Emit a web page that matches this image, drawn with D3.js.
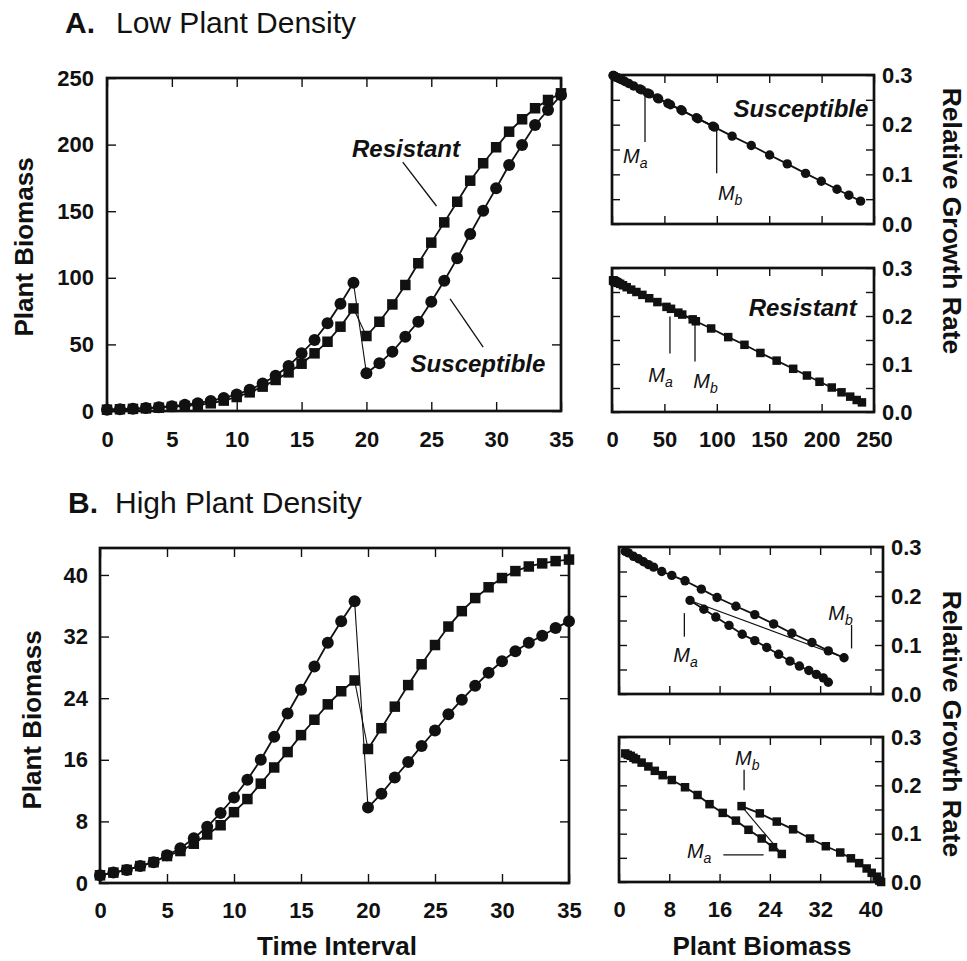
<!DOCTYPE html>
<html><head><meta charset="utf-8">
<script src="https://cdn.jsdelivr.net/npm/d3@7"></script>
<style>
body{margin:0;background:#fff}
text{font-family:"Liberation Sans",Arial,Helvetica,sans-serif;fill:#111}
</style>
</head><body>
<svg id="c" width="967" height="961"></svg>
<script>
// ---------------- DATA ----------------
const timeIntervals = [0,1,2,3,4,5,6,7,8,9,10,11,12,13,14,15,16,17,18,19,20,21,22,23,24,25,26,27,28,29,30,31,32,33,34,35];
const damageIndex = 20; // first interval after herbivory

// A. Low plant density – biomass over time
const lowSusceptible = [1.0,1.3,1.7,2.2,2.8,3.6,4.6,5.9,7.6,9.8,12.3,16.0,20.6,26.5,33.8,43.3,53.3,65.8,80.5,96.3,
  28.3,35.8,44.5,55.8,67.0,82.0,97.8,114.6,132.9,150.4,167.2,184.7,199.7,214.7,226.0,237.2];
const lowResistant = [1.0,1.3,1.6,2.0,2.5,3.1,3.8,4.6,5.8,7.8,10.5,14.0,18.3,23.3,29.0,35.5,43.3,52.0,63.3,77.0,
  56.3,67.0,80.0,94.6,110.9,126.4,141.6,157.1,172.9,186.0,198.0,209.7,219.0,227.3,233.5,238.5];
// A. relative growth rate at each biomass above
const lowSusRGR = [0.299,0.299,0.298,0.298,0.297,0.296,0.295,0.294,0.292,0.290,0.287,0.283,0.278,0.272,0.264,0.254,0.243,0.230,0.214,0.197,
  0.270,0.262,0.252,0.240,0.228,0.212,0.195,0.177,0.158,0.139,0.121,0.102,0.086,0.070,0.058,0.046];
const lowResRGR = [0.274,0.274,0.273,0.273,0.272,0.272,0.271,0.270,0.269,0.267,0.264,0.260,0.255,0.250,0.244,0.237,0.229,0.219,0.207,0.193,
  0.215,0.203,0.189,0.174,0.156,0.140,0.123,0.107,0.090,0.076,0.063,0.051,0.041,0.032,0.025,0.020];

// B. High plant density – biomass over time
const highSusceptible = [1.0,1.35,1.7,2.2,2.7,3.6,4.5,5.8,7.3,9.1,11.1,13.4,16.0,19.0,22.0,25.1,28.1,31.2,34.0,36.6,
  9.8,11.6,13.7,15.7,17.8,19.8,21.9,23.8,25.6,27.3,28.8,30.1,31.2,32.1,33.1,34.0];
const highResistant = [1.0,1.35,1.7,2.2,2.7,3.5,4.15,5.1,6.3,7.5,9.2,10.9,12.9,15.0,17.0,19.2,21.2,23.2,24.9,26.3,
  17.4,20.1,22.9,25.7,28.4,30.9,33.3,35.3,37.0,38.4,39.6,40.5,41.1,41.5,41.8,42.0];
// B. relative growth rate vs biomass (before herbivory, then after)
const highSusRGRBiomass = [1.0,1.5,2.3,3.1,3.9,4.7,5.5,6.8,8.4,10.5,13.1,15.6,18.6,21.6,24.6,27.5,30.7,33.3,35.8,
  11.3,13.5,15.4,17.5,19.6,21.6,23.5,25.4,27.2,28.7,30.2,31.4,32.5,33.3];
const highSusRGR = [0.291,0.288,0.281,0.276,0.270,0.264,0.259,0.250,0.242,0.231,0.214,0.197,0.179,0.162,0.143,0.124,0.105,0.088,0.074,
  0.191,0.173,0.157,0.140,0.122,0.109,0.095,0.081,0.067,0.057,0.048,0.040,0.033,0.024];
const highSusRGRBreak = 19;
const highResRGRBiomass = [1.0,1.4,1.86,2.3,2.7,3.6,4.67,5.7,6.95,8.4,10.5,12.5,14.4,16.5,18.6,20.6,22.7,24.5,25.9,
  19.5,22.4,25.1,27.7,30.4,32.9,35.2,36.9,38.2,39.4,40.2,41.0,41.4,41.7];
const highResRGR = [0.266,0.263,0.261,0.257,0.254,0.247,0.239,0.230,0.221,0.211,0.196,0.180,0.161,0.143,0.127,0.108,0.090,0.072,0.058,
  0.157,0.142,0.125,0.109,0.090,0.074,0.061,0.049,0.039,0.028,0.019,0.011,0.003,0.000];
const highResRGRBreak = 19;

// tick labels
const timeTicks = [0,5,10,15,20,25,30,35];
const lowBiomassTicks = [0,50,100,150,200,250];
const highBiomassTicks = [0,8,16,24,32,40];
const rgrTicks = [0,0.05,0.1,0.15,0.2,0.25,0.3];

// ---------------- DRAWING ----------------
const svg = d3.select("#c");
const INK = "#111";

function panel(box, xDom, yDom, xTicks, yTicks, o) {
  const g = svg.append("g");
  const x = d3.scaleLinear().domain(xDom).range([box.x0, box.x1]);
  const y = d3.scaleLinear().domain(yDom).range([box.y1, box.y0]);
  const tick = o.tick || 9;
  const fmtY = o.yFmt || (d => d);
  const axes = [
    [d3.axisBottom(x).tickValues(xTicks).tickFormat(o.xLabels ? (d=>d) : ""), `translate(0,${box.y1})`, o.xPad || 20],
    [d3.axisTop(x).tickValues(xTicks).tickFormat(""), `translate(0,${box.y0})`, 0],
    [d3.axisLeft(y).tickValues(yTicks).tickFormat(o.yLeft ? fmtY : ""), `translate(${box.x0},0)`, o.yPad || 12],
    [d3.axisRight(y).tickValues(yTicks).tickFormat(o.yRight ? fmtY : ""), `translate(${box.x1},0)`, o.yPad || 9]
  ];
  axes.forEach(([ax, tr, pad]) => {
    const a = g.append("g").attr("transform", tr)
      .call(ax.tickSizeInner(-tick).tickSizeOuter(0).tickPadding(pad));
    a.select(".domain").remove();
    a.selectAll(".tick line").attr("stroke", INK).attr("stroke-width", 1.4);
    a.selectAll("text").attr("font-size", 22).attr("font-weight", "bold").attr("fill", INK)
      .style("font-family", '"Liberation Sans",Arial,sans-serif');
  });
  g.append("rect").attr("x", box.x0).attr("y", box.y0)
    .attr("width", box.x1 - box.x0).attr("height", box.y1 - box.y0)
    .attr("fill", "none").attr("stroke", INK).attr("stroke-width", 2.7);
  return {g, x, y};
}

function series(p, xs, ys, brk, shape, size) {
  const pts = xs.map((v, i) => [p.x(v), p.y(ys[i])]);
  const line = d3.line();
  const layer = p.g.insert("g", "rect");
  layer.append("path").attr("d", line(pts.slice(0, brk))).attr("fill", "none").attr("stroke", INK).attr("stroke-width", 1.8);
  layer.append("path").attr("d", line(pts.slice(brk - 1, brk + 1))).attr("fill", "none").attr("stroke", INK).attr("stroke-width", 1.1);
  layer.append("path").attr("d", line(pts.slice(brk))).attr("fill", "none").attr("stroke", INK).attr("stroke-width", 1.8);
  return () => {
    const m = p.g.append("g");
    if (shape === "circle") {
      m.selectAll("circle").data(pts).join("circle")
        .attr("cx", d => d[0]).attr("cy", d => d[1]).attr("r", size).attr("fill", INK);
    } else {
      m.selectAll("rect").data(pts).join("rect")
        .attr("x", d => d[0] - size / 2).attr("y", d => d[1] - size / 2)
        .attr("width", size).attr("height", size).attr("fill", INK);
    }
  };
}

function mLabel(p, mx, my, sub) {
  const t = p.g.append("text").attr("x", p.x(mx)).attr("y", p.y(my))
    .attr("font-style", "italic").attr("font-size", 20);
  t.append("tspan").text("M");
  t.append("tspan").attr("font-size", 14).attr("dy", 5).text(sub);
}
function seg(p, x1, y1, x2, y2) {
  p.g.append("line").attr("x1", p.x(x1)).attr("y1", p.y(y1)).attr("x2", p.x(x2)).attr("y2", p.y(y2))
    .attr("stroke", INK).attr("stroke-width", 1.3);
}
function bigItalic(p, tx, ty, txt, anchor) {
  p.g.append("text").attr("x", p.x(tx)).attr("y", p.y(ty)).attr("text-anchor", anchor)
    .attr("font-size", 24).attr("font-weight", "bold").attr("font-style", "italic").text(txt);
}
const rgrFmt = d => (Math.round(d * 100) % 10 === 0) ? d3.format(".1f")(d) : "";

// ---- Panel A main ----
const aMain = panel({x0:107, x1:561, y0:78, y1:411}, [0,35], [0,250], timeTicks, lowBiomassTicks,
  {xLabels:true, yLeft:true, xPad:20, yPad:13});
const m1 = series(aMain, timeIntervals, lowSusceptible, damageIndex, "circle", 6);
const m2 = series(aMain, timeIntervals, lowResistant, damageIndex, "square", 10.5);
m1(); m2();
bigItalic(aMain, 23.05, 190.7, "Resistant", "middle");
seg(aMain, 22.8, 186.9, 25.4, 153.9);
bigItalic(aMain, 28.6, 29.3, "Susceptible", "middle");
seg(aMain, 26.45, 84.1, 29.0, 48.0);

// ---- Panel A right: susceptible ----
const aS = panel({x0:612, x1:874, y0:75, y1:224}, [0,250], [0,0.3], lowBiomassTicks, rgrTicks,
  {yRight:true, yFmt:rgrFmt, yPad:8, tick:8});
series(aS, lowSusceptible, lowSusRGR, damageIndex, "circle", 4.7)();
bigItalic(aS, 244.6, 0.216, "Susceptible", "end");
seg(aS, 31.5, 0.256, 31.5, 0.165); mLabel(aS, 10.5, 0.122, "a");
seg(aS, 99.9, 0.189, 99.9, 0.102); mLabel(aS, 101.1, 0.048, "b");

// ---- Panel A right: resistant ----
const aR = panel({x0:612, x1:874, y0:268, y1:412}, [0,250], [0,0.3], lowBiomassTicks, rgrTicks,
  {xLabels:true, xPad:19, yRight:true, yFmt:rgrFmt, yPad:8, tick:8});
series(aR, lowResistant, lowResRGR, damageIndex, "square", 8.5)();
bigItalic(aR, 233.5, 0.199, "Resistant", "end");
seg(aR, 55.3, 0.199, 55.3, 0.122); mLabel(aR, 34.6, 0.063, "a");
seg(aR, 79.2, 0.185, 79.2, 0.105); mLabel(aR, 77.6, 0.049, "b");

// ---- Panel B main ----
const bMain = panel({x0:100, x1:569, y0:548, y1:883}, [0,35], [0,43.5], timeTicks, highBiomassTicks,
  {xLabels:true, yLeft:true, xPad:19, yPad:12});
const n1 = series(bMain, timeIntervals, highSusceptible, damageIndex, "circle", 6);
const n2 = series(bMain, timeIntervals, highResistant, damageIndex, "square", 10.5);
n1(); n2();

// ---- Panel B right: susceptible ----
const bS = panel({x0:619, x1:883, y0:547, y1:694}, [0,42], [0,0.3], highBiomassTicks, rgrTicks,
  {yRight:true, yFmt:rgrFmt, yPad:8, tick:8});
series(bS, highSusRGRBiomass, highSusRGR, highSusRGRBreak, "circle", 4.7)();
seg(bS, 10.4, 0.165, 10.4, 0.117); mLabel(bS, 8.64, 0.066, "a");
seg(bS, 37.0, 0.141, 37.0, 0.093); mLabel(bS, 33.3, 0.151, "b");

// ---- Panel B right: resistant ----
const bR = panel({x0:619, x1:883, y0:737, y1:882}, [0,42], [0,0.3], highBiomassTicks, rgrTicks,
  {xLabels:true, xPad:19, yRight:true, yFmt:rgrFmt, yPad:8, tick:8});
series(bR, highResRGRBiomass, highResRGR, highResRGRBreak, "square", 8.5)();
seg(bR, 19.9, 0.232, 19.9, 0.190); mLabel(bR, 18.45, 0.242, "b");
seg(bR, 16.6, 0.056, 23.0, 0.056); mLabel(bR, 10.8, 0.049, "a");

// ---- Titles & axis titles ----
function title(x, y, letter, x2, rest) {
  svg.append("text").attr("x", x).attr("y", y).attr("font-size", 30).attr("font-weight", "bold").text(letter);
  svg.append("text").attr("x", x2).attr("y", y).attr("font-size", 30).text(rest);
}
title(65, 33, "A.", 116, "Low Plant Density");
title(68, 513, "B.", 115, "High Plant Density");

function rotText(x, y, ang, txt, fs) {
  svg.append("text").attr("transform", `translate(${x},${y}) rotate(${ang})`)
    .attr("text-anchor", "middle").attr("font-size", fs).attr("font-weight", "bold").text(txt);
}
rotText(33, 247, -90, "Plant Biomass", 26);
rotText(41, 720, -90, "Plant Biomass", 26);
rotText(943, 221, 90, "Relative Growth Rate", 26.5);
rotText(943, 724, 90, "Relative Growth Rate", 26.5);
svg.append("text").attr("x", 337).attr("y", 955).attr("text-anchor", "middle")
  .attr("font-size", 26).attr("font-weight", "bold").text("Time Interval");
svg.append("text").attr("x", 762).attr("y", 955).attr("text-anchor", "middle")
  .attr("font-size", 26).attr("font-weight", "bold").text("Plant Biomass");
</script>
</body></html>
